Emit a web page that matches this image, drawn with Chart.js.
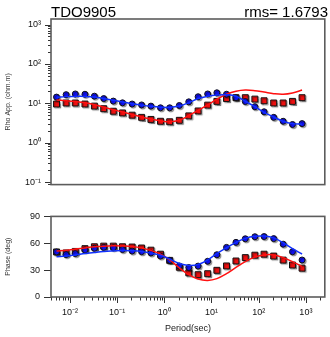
<!DOCTYPE html>
<html>
<head>
<meta charset="utf-8">
<script src="https://cdn.jsdelivr.net/npm/chart.js@4/dist/chart.umd.min.js"></script>
<style>
html,body{margin:0;padding:0;background:#fff;}
#wrap{position:relative;width:330px;height:337px;}
#rho{position:absolute;left:0;top:0;}
#phs{position:absolute;left:0;top:200px;}
</style>
</head>
<body>
<div id="wrap">
<canvas id="rho" width="330" height="200"></canvas>
<canvas id="phs" width="330" height="137"></canvas>
</div>
<script>
// periods (sec)
var periods = [0.0052, 0.0083, 0.013, 0.0208, 0.033, 0.052, 0.083, 0.13, 0.208, 0.33, 0.52, 0.83, 1.3, 2.08, 3.3, 5.2, 8.3, 13, 20.8, 33, 52, 83, 130, 208, 330, 520, 830]

// apparent resistivity, observed
var rhoBlue = [14.4, 16.6, 17.3, 17, 15.2, 13.2, 11.4, 10.3, 9.6, 9.1, 8.5, 7.7, 7.7, 8.8, 10.9, 14.7, 17.3, 18.5, 17, 13.9, 11.1, 8.2, 6.1, 4.4, 3.5, 2.9, 3.05]
var rhoRed = [9.6, 10.2, 10.2, 9.6, 8.5, 7.3, 6.3, 5.7, 5.0, 4.4, 3.9, 3.5, 3.4, 3.7, 4.8, 6.4, 9.0, 11.2, 13.2, 13.9, 13.9, 12.8, 11.6, 10.2, 10.2, 11.2, 13.9]
// apparent resistivity, model
var rhoBlueFit = [14.2, 14.8, 15, 15, 14.5, 13.3, 12, 10.8, 9.8, 9, 8.4, 8.0, 7.9, 8.5, 10.4, 13.2, 15.2, 16.3, 16.5, 15.2, 11.3, 8.2, 5.9, 4.5, 3.5, 3.05, 2.95]
var rhoRedFit = [12.2, 11.7, 11.1, 10.3, 9.2, 8.0, 6.9, 6.0, 5.2, 4.5, 4.0, 3.6, 3.4, 3.7, 4.9, 6.6, 9.1, 12.7, 17, 20.3, 21.8, 21, 19.3, 17.6, 17, 18.3, 21.8]

// phase, observed
var phBlue = [50.3, 47.4, 48.5, 52.6, 54.4, 55.4, 55, 53, 51.3, 50.6, 49.2, 45.7, 40.9, 34.7, 32.9, 34.5, 39.9, 47.2, 55.4, 61, 65, 67.3, 67.5, 65.2, 59, 50.5, 41.3]
var phRed = [50.3, 49.2, 50.9, 54, 56.1, 56.8, 56.8, 56.1, 55.8, 54.7, 52.3, 47.8, 40.9, 33.2, 27, 24.9, 26, 29.8, 34.7, 40.2, 44, 46.7, 47.8, 45.7, 41.2, 35.7, 32.2]
// phase, model
var phBlueFit = [45, 45.7, 47, 48.5, 49.8, 50.9, 51.5, 51.9, 51.7, 50.9, 49, 46.7, 42.3, 37.4, 35.3, 36.3, 41.5, 48.5, 55, 61, 65.5, 67.8, 68, 66, 60.5, 54, 48]
var phRedFit = [51.3, 52.3, 53.5, 54.8, 56, 56.8, 57.2, 57, 56.4, 54.8, 52, 47.8, 41.5, 32.5, 25, 20, 18.5, 20.5, 26, 33, 39.5, 44.5, 47, 47, 44, 39.5, 34]

// tick values
var periodTicks = [0.01, 0.1, 1, 10, 100, 1000]
var rhoTicks = [0.1, 1, 10, 100, 1000]
var phaseTicks = [0, 30, 60, 90]

var siteName = 'TDO9905'
var rmsText = 'rms= 1.6793'

var FONT = 'Liberation Sans'
var sup = {'-': '\u207B', '0': '\u2070', '1': '\u00B9', '2': '\u00B2', '3': '\u00B3'}
function powLabel(v) {
  var e = Math.round(Math.log10(v))
  return '10' + String(e).split('').map(function (c) { return sup[c] }).join('')
}
function pts(ys) {
  return periods.map(function (p, i) { return {x: p, y: ys[i]} })
}
function obs(ys, color, style, r) {
  return {data: pts(ys), showLine: false, pointStyle: style, pointRadius: r,
    backgroundColor: color, borderColor: '#111', pointBorderWidth: 1, order: 1, marker: true}
}
function fit(ys, color) {
  return {data: pts(ys), borderColor: color, borderWidth: 1.5, pointRadius: 0,
    tension: 0.4, fill: false, order: 0}
}

var xMin = 0.00397, xMax = 2518

// box, minor ticks, marker shadows
var frame = {
  id: 'frame',
  beforeDatasetDraw: function (chart, args) {
    if (args.meta._dataset.marker) {
      var c = chart.ctx
      c.save()
      c.shadowColor = 'rgba(0,0,0,0.35)'
      c.shadowOffsetX = 1.2
      c.shadowOffsetY = 1.2
      c.shadowBlur = 1
    }
  },
  afterDatasetDraw: function (chart, args) {
    if (args.meta._dataset.marker) chart.ctx.restore()
  },
  afterDraw: function (chart) {
    var c = chart.ctx, a = chart.chartArea
    c.save()
    c.strokeStyle = '#333'
    c.lineWidth = 1
    var which = chart.canvas.id
    c.beginPath()
    if (which == 'rho') {
      var ys = chart.scales.y
      for (var d = -2; d <= 3; d++) {
        for (var m = 1; m <= 9; m++) {
          var v = m * Math.pow(10, d)
          if (v < ys.min || v > ys.max) continue
          var py = Math.round(ys.getPixelForValue(v)) + 0.5
          var len = m == 1 ? 6 : 3
          c.moveTo(a.left - len, py); c.lineTo(a.left, py)
        }
      }
    } else {
      var xs = chart.scales.x, yp = chart.scales.y
      for (var d = -3; d <= 3; d++) {
        for (var m = 1; m <= 9; m++) {
          var v = m * Math.pow(10, d)
          if (v < xs.min || v > xs.max) continue
          var px = Math.round(xs.getPixelForValue(v)) + 0.5
          var len = m == 1 ? 6 : 3.5
          c.moveTo(px, a.bottom); c.lineTo(px, a.bottom + len)
        }
      }
      phaseTicks.forEach(function (v) {
        var py = Math.round(yp.getPixelForValue(v)) + 0.5
        c.moveTo(a.left - 7, py); c.lineTo(a.left, py)
      })
    }
    c.stroke()
    c.strokeStyle = '#5c5c5c'
    c.lineWidth = 1.6
    c.strokeRect(a.left, a.top, a.right - a.left, a.bottom - a.top)
    if (which == 'rho') {
      c.fillStyle = '#000'
      c.font = '15px "' + FONT + '"'
      c.textBaseline = 'alphabetic'
      c.textAlign = 'left'
      c.fillText(siteName, 51, 17)
      c.textAlign = 'right'
      c.fillText(rmsText, 328, 17)
    }
    c.restore()
  }
}

var tickFont = {family: FONT, size: 9}
var titleFont = {family: FONT, size: 7}

new Chart(document.getElementById('rho'), {
  type: 'line',
  data: {datasets: [
    obs(rhoBlue, '#1010ee', 'circle', 3),
    obs(rhoRed, '#ee1010', 'rect', 4.2),
    fit(rhoBlueFit, '#1030ff'),
    fit(rhoRedFit, '#ff1010')
  ]},
  options: {
    responsive: false,
    animation: false,
    layout: {padding: {left: 0, right: 4, top: 19, bottom: 4}},
    plugins: {legend: {display: false}, tooltip: {enabled: false}},
    scales: {
      x: {type: 'logarithmic', min: xMin, max: xMax, display: false},
      y: {
        type: 'logarithmic', min: 0.086, max: 1390,
        afterFit: function (s) { s.width = 51 },
        afterBuildTicks: function (s) { s.ticks = rhoTicks.map(function (v) { return {value: v} }) },
        grid: {display: false, drawTicks: false},
        border: {display: false},
        ticks: {padding: 10, color: '#111', font: tickFont, autoSkip: false,
          callback: function (v) { return powLabel(v) }},
        title: {display: true, text: 'Rho App. (ohm.m)', color: '#333', font: titleFont, padding: {top: 4, bottom: 0}}
      }
    }
  },
  plugins: [frame]
})

new Chart(document.getElementById('phs'), {
  type: 'line',
  data: {datasets: [
    obs(phBlue, '#1010ee', 'circle', 3),
    obs(phRed, '#ee1010', 'rect', 4.2),
    fit(phBlueFit, '#1030ff'),
    fit(phRedFit, '#ff1010')
  ]},
  options: {
    responsive: false,
    animation: false,
    layout: {padding: {left: 0, right: 4, top: 10, bottom: 0}},
    plugins: {legend: {display: false}, tooltip: {enabled: false}},
    scales: {
      x: {
        type: 'logarithmic', min: xMin, max: xMax,
        afterFit: function (s) { s.height = 40 },
        afterBuildTicks: function (s) { s.ticks = periodTicks.map(function (v) { return {value: v} }) },
        grid: {display: false, drawTicks: false},
        border: {display: false},
        ticks: {padding: 10, color: '#111', font: tickFont, autoSkip: false, maxRotation: 0,
          callback: function (v) { return powLabel(v) }},
        title: {display: true, text: 'Period(sec)', color: '#222', font: {family: FONT, size: 9}, padding: {top: 0, bottom: 3}}
      },
      y: {
        min: 0, max: 90,
        afterFit: function (s) { s.width = 51 },
        afterBuildTicks: function (s) { s.ticks = phaseTicks.map(function (v) { return {value: v} }) },
        grid: {display: false, drawTicks: false},
        border: {display: false},
        ticks: {padding: 11, color: '#111', font: tickFont, autoSkip: false},
        title: {display: true, text: 'Phase (deg)', color: '#333', font: titleFont, padding: {top: 4, bottom: 0}}
      }
    }
  },
  plugins: [frame]
})
</script>
</body>
</html>
